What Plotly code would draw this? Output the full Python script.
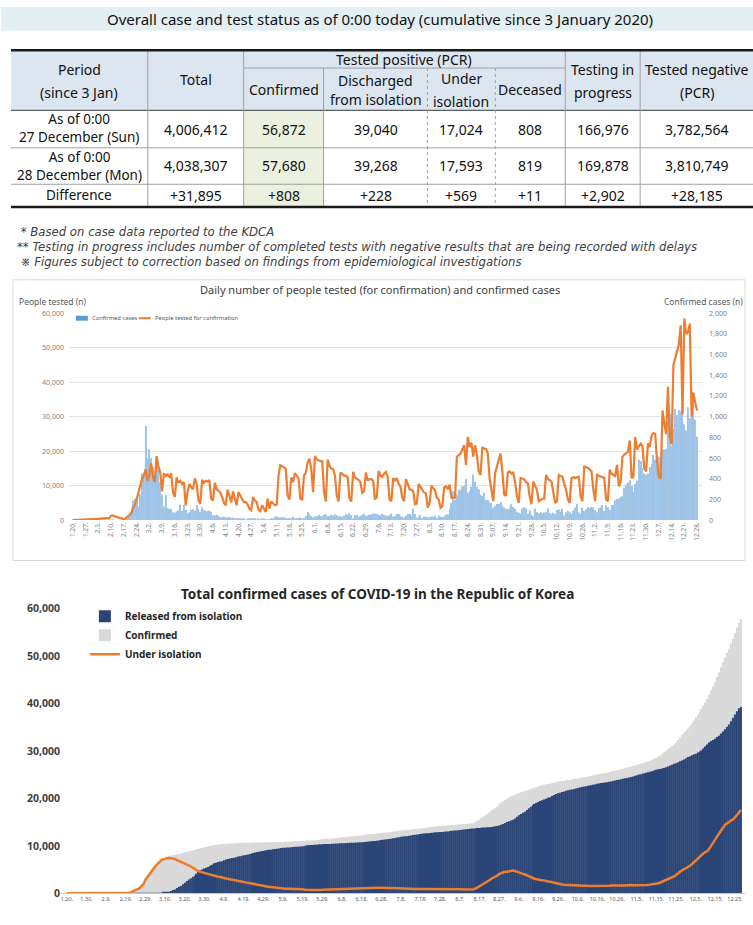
import plotly.graph_objects as go
import pandas as pd
import numpy as np

W, H = 753, 925
FONT = "Noto Sans, Noto Sans CJK KR, sans-serif"
NOTE_FONT = "DejaVu Sans, Noto Sans CJK KR, sans-serif"


def X(p):
    return p / W


def Y(p):
    return 1 - p / H


# ---------------- table data ----------------
table_title = "Overall case and test status as of 0:00 today (cumulative since 3 January 2020)"
group_header = "Tested positive (PCR)"
col_headers = [["Period", "(since 3 Jan)"], ["Total"], ["Confirmed"], ["Discharged", "from isolation"],
               ["Under", "isolation"], ["Deceased"], ["Testing in", "progress"], ["Tested negative", "(PCR)"]]
row_labels = [["As of 0:00", "27 December (Sun)"], ["As of 0:00", "28 December (Mon)"], ["Difference"]]
status_dec27 = [4006412, 56872, 39040, 17024, 808, 166976, 3782564]
status_dec28 = [4038307, 57680, 39268, 17593, 819, 169878, 3810749]
footnotes = [" * Based on case data reported to the KDCA",
             "** Testing in progress includes number of completed tests with negative results that are being recorded with delays",
             " ※ Figures subject to correction based on findings from epidemiological investigations"]

# ---------------- chart texts ----------------
chart1_title = "Daily number of people tested (for confirmation) and confirmed cases"
chart1_left_title = "People tested (n)"
chart1_right_title = "Confirmed cases (n)"
chart1_series = ["Confirmed cases", "People tested for confirmation"]
chart2_title = "Total confirmed cases of COVID-19 in the Republic of Korea"
top_ticks = ["1.20.", "1.27.", "2.3.", "2.10.", "2.17.", "2.24.", "3.2.", "3.9.", "3.16.", "3.23.", "3.30.",
             "4.6.", "4.13.", "4.20.", "4.27.", "5.4.", "5.11.", "5.18.", "5.25.", "6.1.", "6.8.", "6.15.",
             "6.22.", "6.29.", "7.6.", "7.13.", "7.20.", "7.27.", "8.3.", "8.10.", "8.17.", "8.24.", "8.31.",
             "9.07.", "9.14.", "9.21.", "9.28.", "10.5.", "10.12.", "10.19.", "10.26.", "11.2.", "11.9.",
             "11.16.", "11.23.", "11.30.", "12.7.", "12.14.", "12.21.", "12.28."]
bottom_ticks = ["1.20.", "1.30.", "2.9.", "2.19.", "2.29.", "3.10.", "3.20.", "3.30.", "4.9.", "4.19.", "4.29.",
                "5.9.", "5.19.", "5.29.", "6.8.", "6.18.", "6.28.", "7.8.", "7.18.", "7.28.", "8.7.", "8.17.",
                "8.27.", "9.6.", "9.16.", "9.26.", "10.6.", "10.16.", "10.26.", "11.5.", "11.15.", "11.25.",
                "12.5.", "12.15.", "12.25."]

# ---------------- daily data 2020-01-20 .. 2020-12-28 ----------------
confirmed_jan = [1, 0, 0, 0, 1, 0, 1, 1, 0, 0, 3, 4]
confirmed_feb = [1, 3, 0, 1, 2, 5, 1, 0, 3, 0, 1, 0, 0, 0, 0, 2, 0, 1, 15, 34, 75, 190, 210, 207, 130, 253, 449, 427, 909]
confirmed_mar = [595, 686, 600, 516, 438, 518, 483, 367, 248, 131, 242, 114, 110, 107, 76, 74, 84, 93, 152, 87,
                 147, 98, 64, 76, 100, 104, 91, 146, 105, 78, 125]
confirmed_apr = [101, 89, 86, 94, 81, 47, 47, 53, 39, 27, 30, 32, 25, 27, 27, 22, 22, 18, 8, 13,
                 9, 11, 8, 6, 10, 10, 10, 14, 9, 4]
confirmed_may = [9, 6, 13, 8, 3, 2, 4, 12, 18, 34, 35, 27, 26, 29, 27, 19, 13, 15, 13, 32,
                 12, 20, 23, 25, 16, 19, 40, 79, 58, 39, 27]
confirmed_jun = [35, 38, 49, 39, 39, 51, 57, 38, 38, 50, 45, 56, 48, 34, 37, 34, 43, 59, 49, 67,
                 48, 17, 46, 51, 28, 39, 51, 62, 42, 43]
confirmed_jul = [51, 54, 63, 63, 61, 48, 44, 63, 50, 45, 35, 44, 62, 33, 39, 61, 60, 39, 34, 26,
                 45, 63, 59, 41, 113, 58, 25, 28, 48, 18, 36]
confirmed_aug = [31, 30, 23, 34, 33, 43, 20, 43, 36, 28, 34, 54, 56, 103, 166, 279, 197, 246, 297, 288,
                 324, 332, 397, 266, 280, 320, 441, 371, 323, 299, 248]
confirmed_sep = [235, 267, 195, 198, 168, 167, 119, 136, 156, 155, 176, 136, 121, 109, 106, 113, 153, 126, 110, 82,
                 70, 61, 110, 125, 114, 61, 95, 50, 38, 113]
confirmed_oct = [77, 63, 75, 64, 73, 75, 114, 69, 54, 72, 58, 97, 102, 84, 110, 47, 73, 91, 76, 58,
                 91, 121, 155, 77, 61, 119, 88, 103, 125, 114, 127]
confirmed_nov = [124, 97, 75, 118, 125, 145, 89, 143, 126, 100, 146, 143, 191, 205, 208, 223, 230, 313, 343, 363,
                 386, 330, 271, 349, 382, 583, 569, 504, 450, 438]
confirmed_dec = [451, 511, 540, 629, 583, 631, 615, 594, 686, 682, 689, 950, 1030, 718, 880, 1078, 1014, 1064,
                 1053, 1097, 926, 869, 1092, 985, 1241, 1132, 970, 808]

tested_jan = [10, 12, 25, 40, 55, 70, 90, 120, 150, 180, 220, 260]
tested_feb = [300, 320, 350, 420, 480, 520, 560, 600, 650, 1300, 1400, 1100, 900, 800, 600, 550, 200, 500, 1000,
              1500, 1900, 3500, 4300, 6000, 8100, 10500, 11900, 13000, 14800]
tested_mar = [11400, 13000, 16500, 12500, 11000, 18600, 15500, 13800, 8300, 13600, 12800, 13300, 12600, 13600,
              8100, 6700, 12400, 10800, 11400, 10500, 11000, 4300, 8100, 10500, 9500, 9000, 12100, 10500, 5700,
              4800, 11700]
tested_apr = [10800, 11400, 11200, 11600, 6200, 5700, 10800, 9000, 8600, 8000, 6700, 5000, 4300, 8800, 7100,
              5200, 8300, 6000, 4300, 8100, 7100, 6200, 5200, 5200, 4500, 3300, 2900, 6700, 5700, 5200]
tested_may = [3000, 2600, 4300, 3300, 2400, 6200, 3300, 5400, 4800, 4300, 4500, 12900, 15900, 15700, 15300,
              14800, 7100, 6000, 12400, 11000, 13600, 12900, 12000, 6200, 6000, 13000, 13800, 16700, 17800,
              14800, 8100]
tested_jun = [18600, 17600, 17400, 17100, 17100, 8100, 5400, 17600, 15700, 15000, 14800, 12900, 7100, 5400,
              13800, 13200, 12900, 12900, 12400, 6200, 5400, 14000, 12400, 12000, 11700, 11000, 7900, 8300,
              13800, 11400]
tested_jul = [11900, 11900, 11400, 6000, 6700, 14300, 13000, 12500, 13500, 14000, 12600, 6000, 5500, 12200,
              11500, 12200, 10500, 9800, 6500, 5500, 11900, 10500, 9000, 8800, 8400, 4600, 4800, 10500, 9500,
              8800, 8000]
tested_aug = [7700, 3600, 5000, 10000, 9200, 8600, 6500, 6000, 3600, 4000, 9500, 9800, 9000, 10300, 6500, 6500,
              6500, 18400, 19000, 19300, 20500, 21700, 16000, 24100, 21200, 22500, 18400, 21700, 19000, 14100,
              13100]
tested_sep = [21200, 20700, 20700, 19300, 12000, 8800, 5500, 13600, 15500, 17000, 19300, 14100, 7400, 7000,
              13800, 14100, 13500, 13800, 11000, 7000, 5000, 12200, 12000, 11900, 11000, 10700, 6900, 4600,
              11200, 10000]
tested_oct = [8800, 5500, 5800, 6200, 6200, 13100, 12000, 11700, 11200, 8000, 5000, 5500, 13100, 12800, 12600,
              10500, 8800, 6000, 5000, 12200, 12500, 12200, 12400, 12600, 6900, 5500, 15500, 15300, 15200,
              14600, 14100]
tested_nov = [8800, 5500, 13100, 12900, 12600, 12400, 12200, 6000, 5500, 14600, 13500, 13100, 12800, 16000,
              9800, 11200, 18400, 19000, 19300, 19800, 23100, 12200, 12600, 24100, 20500, 21400, 22200, 21500,
              15000, 14100]
tested_dec = [22200, 21200, 24500, 25300, 25000, 17000, 12500, 12000, 31800, 28000, 25000, 38700, 24000, 22000,
              45000, 47000, 49500, 51000, 56500, 30700, 58500, 54000, 54500, 57000, 30000, 37000, 34000, 31800]

released_jan = [0, 0, 0, 0, 0, 0, 0, 0, 0, 0, 0, 0]
released_feb = [0, 0, 0, 0, 1, 1, 1, 1, 3, 3, 4, 7, 7, 7, 9, 9, 10, 12, 12, 16, 16, 16, 18, 18, 22, 22, 22, 24, 27]
released_mar = [30, 30, 30, 34, 41, 108, 130, 130, 166, 247, 288, 333, 510, 714, 834, 1137, 1401, 1540, 1947,
                2233, 2612, 2909, 3166, 3507, 3730, 4144, 4528, 4811, 5033, 5228, 5408]
released_apr = [5567, 5828, 6021, 6325, 6463, 6598, 6694, 6776, 6973, 7117, 7243, 7368, 7447, 7534, 7616, 7757,
                7829, 7937, 8042, 8114, 8213, 8277, 8411, 8501, 8635, 8717, 8764, 8854, 8922, 9059]
released_may = [9123, 9183, 9217, 9283, 9333, 9419, 9484, 9568, 9610, 9632, 9670, 9695, 9720, 9762, 9821, 9851,
                9888, 9904, 9938, 10066, 10135, 10162, 10194, 10213, 10226, 10275, 10295, 10340, 10363, 10385,
                10398]
released_jun = [10405, 10422, 10447, 10467, 10506, 10531, 10552, 10570, 10589, 10611, 10632, 10654, 10669,
                10691, 10718, 10730, 10760, 10795, 10818, 10856, 10881, 10930, 10968, 11020, 11060, 11117,
                11172, 11229, 11317, 11364]
released_jul = [11422, 11476, 11537, 11613, 11684, 11759, 11811, 11914, 11970, 12019, 12066, 12137, 12204,
                12282, 12348, 12396, 12455, 12504, 12545, 12610, 12653, 12698, 12733, 12770, 12817, 12866,
                12905, 12929, 12959, 13007, 13030]
released_aug = [13063, 13132, 13183, 13233, 13280, 13330, 13363, 13406, 13475, 13501, 13552, 13643, 13669,
                13692, 13722, 13760, 13789, 13817, 13863, 13901, 13920, 13948, 14006, 14063, 14138, 14219,
                14285, 14461, 14650, 14845, 15049]
released_sep = [15198, 15356, 15503, 15800, 16146, 16493, 16745, 16983, 17228, 17595, 17929, 18282, 18569,
                18840, 19064, 19287, 19477, 19620, 19770, 19970, 20158, 20275, 20502, 20712, 20934, 21099,
                21234, 21383, 21477, 21617]
released_oct = [21745, 21840, 21916, 21977, 22115, 22225, 22329, 22413, 22509, 22567, 22652, 22730, 22800,
                22887, 22960, 23113, 23173, 23273, 23321, 23384, 23443, 23514, 23608, 23703, 23780, 23887,
                23972, 24084, 24169, 24252, 24324]
released_nov = [24423, 24528, 24651, 24778, 24911, 25035, 25132, 25244, 25347, 25436, 25540, 25643, 25763,
                25905, 26042, 26144, 26223, 26334, 26455, 26586, 26771, 26949, 27118, 27303, 27444, 27624,
                27831, 28024, 28238, 28495]
released_dec = [28723, 28931, 29118, 29334, 29456, 29687, 29898, 30140, 30524, 30956, 31394, 31791, 32114,
                32329, 32587, 32953, 33245, 33698, 34137, 34619, 35100, 35600, 36300, 37000, 37700, 38400,
                39040, 39268]

isolation_jan = [1, 1, 1, 1, 2, 2, 3, 4, 4, 4, 7, 11]
isolation_feb = [12, 15, 15, 16, 17, 22, 23, 23, 24, 24, 24, 21, 21, 21, 19, 21, 20, 19, 34, 63, 137, 327, 531,
                 736, 860, 1111, 1559, 1984, 2887]
isolation_mar = [3478, 4159, 4753, 5261, 5689, 6133, 6592, 6953, 7164, 7211, 7406, 7469, 7401, 7299, 7252,
                 7023, 6837, 6788, 6526, 6324, 6084, 5883, 5683, 5409, 5280, 4965, 4664, 4522, 4397, 4274, 4215]
isolation_apr = [4154, 3978, 3866, 3653, 3590, 3499, 3444, 3407, 3245, 3124, 3025, 2929, 2872, 2807, 2749,
                 2626, 2575, 2483, 2384, 2323, 2232, 2178, 2050, 1966, 1840, 1767, 1730, 1653, 1592, 1458]
isolation_may = [1402, 1346, 1325, 1265, 1216, 1131, 1069, 997, 973, 985, 982, 984, 983, 969, 936, 923, 899,
                 897, 876, 780, 722, 715, 704, 710, 712, 682, 700, 734, 769, 786, 799]
isolation_jun = [826, 846, 870, 888, 888, 914, 950, 970, 986, 1014, 1038, 1071, 1104, 1116, 1126, 1148, 1159,
                 1183, 1208, 1237, 1260, 1228, 1236, 1234, 1221, 1203, 1199, 1204, 1158, 1154]
isolation_jul = [1147, 1147, 1148, 1135, 1125, 1097, 1088, 1048, 1040, 1035, 1023, 996, 990, 945, 918, 929,
                 928, 917, 909, 869, 871, 888, 912, 915, 980, 989, 975, 979, 996, 966, 978]
isolation_aug = [976, 937, 909, 893, 878, 871, 857, 856, 823, 825, 807, 770, 800, 880, 1016, 1257, 1425, 1643,
                 1893, 2143, 2447, 2749, 3088, 3297, 3501, 3738, 4112, 4307, 4438, 4537, 4578]
isolation_sep = [4662, 4768, 4814, 4713, 4532, 4347, 4211, 4107, 4014, 3800, 3639, 3419, 3250, 3086, 2964,
                 2849, 2807, 2790, 2749, 2628, 2507, 2450, 2330, 2240, 2130, 2020, 1980, 1880, 1820, 1790]
isolation_oct = [1735, 1701, 1700, 1702, 1633, 1597, 1606, 1588, 1543, 1555, 1526, 1544, 1575, 1572, 1604,
                 1496, 1507, 1497, 1525, 1518, 1546, 1593, 1652, 1632, 1616, 1628, 1628, 1618, 1655, 1686, 1737]
isolation_nov = [1760, 1750, 1700, 1690, 1680, 1700, 1690, 1720, 1740, 1750, 1790, 1830, 1900, 1960, 2030,
                 2150, 2300, 2500, 2720, 2950, 3150, 3300, 3400, 3560, 3800, 4200, 4560, 4870, 5100, 5280]
isolation_dec = [5500, 5800, 6150, 6550, 7000, 7400, 7800, 8150, 8450, 8700, 8950, 9500, 10200, 10700, 11300,
                 12000, 12700, 13300, 13900, 14500, 14800, 15000, 15400, 15600, 16000, 16500, 17024, 17593]

daily_confirmed = (confirmed_jan + confirmed_feb + confirmed_mar + confirmed_apr + confirmed_may + confirmed_jun
                   + confirmed_jul + confirmed_aug + confirmed_sep + confirmed_oct + confirmed_nov + confirmed_dec)
daily_tested = (tested_jan + tested_feb + tested_mar + tested_apr + tested_may + tested_jun + tested_jul
                + tested_aug + tested_sep + tested_oct + tested_nov + tested_dec)
released = (released_jan + released_feb + released_mar + released_apr + released_may + released_jun
            + released_jul + released_aug + released_sep + released_oct + released_nov + released_dec)
isolation = (isolation_jan + isolation_feb + isolation_mar + isolation_apr + isolation_may + isolation_jun
             + isolation_jul + isolation_aug + isolation_sep + isolation_oct + isolation_nov + isolation_dec)
cumulative_confirmed = [int(v) for v in np.cumsum(daily_confirmed)]

dates = pd.date_range("2020-01-20", periods=len(daily_confirmed), freq="D")
date_str = [d.strftime("%Y-%m-%d") for d in dates]
DAY_MS = 86400000

BAR_BLUE = "#9dc3e6"
ORANGE = "#ed7d31"

fig = go.Figure()

# ---- top chart ----
fig.add_trace(go.Bar(x=date_str, y=daily_confirmed, name=chart1_series[0], marker_color=BAR_BLUE,
                     marker_line_width=0, width=0.7 * DAY_MS, xaxis="x", yaxis="y", showlegend=False))
fig.add_trace(go.Scatter(x=date_str, y=daily_tested, name=chart1_series[1], mode="lines",
                         line=dict(color=ORANGE, width=2.2), xaxis="x", yaxis="y2", showlegend=False))

# ---- bottom chart ----
fig.add_trace(go.Bar(x=date_str, y=cumulative_confirmed, name="Confirmed", marker_color="#d9d9d9",
                     marker_line_width=0, width=0.72 * DAY_MS, xaxis="x2", yaxis="y3", legend="legend2",
                     legendrank=2))
fig.add_trace(go.Bar(x=date_str, y=released, name="Released from isolation", marker_color="#2a4576",
                     marker_line_width=0, width=0.72 * DAY_MS, xaxis="x2", yaxis="y3", legend="legend2",
                     legendrank=1))
fig.add_trace(go.Scatter(x=date_str, y=isolation, name="Under isolation", mode="lines",
                         line=dict(color=ORANGE, width=2.5), xaxis="x2", yaxis="y3", legend="legend2",
                         legendrank=3))

tick_font_small = dict(size=7, color="#7f7f7f", family=FONT)

fig.update_layout(
    width=W, height=H, autosize=False,
    margin=dict(l=0, r=0, t=0, b=0),
    paper_bgcolor="white", plot_bgcolor="rgba(0,0,0,0)",
    font=dict(family=FONT),
    barmode="overlay",
    xaxis=dict(domain=[X(68), X(702)], anchor="y", type="date",
               range=["2020-01-17 19:20", "2020-12-30 17:50"],
               tickmode="array", tickvals=date_str[::7], ticktext=top_ticks, tickangle=-90,
               tickfont=dict(size=6.5, color="#7f7f7f", family=FONT), showgrid=False, showline=False,
               zeroline=False, ticks=""),
    yaxis=dict(domain=[Y(521), Y(311)], anchor="x", side="right", range=[0, 2000], dtick=200,
               tickformat=",", showgrid=False, zeroline=False, tickfont=tick_font_small, ticks="",
               ticklabelstandoff=6),
    yaxis2=dict(overlaying="y", anchor="x", side="left", range=[0, 60000], dtick=10000, tickformat=",",
                showgrid=True, gridcolor="#e4e4e4", gridwidth=1, zeroline=False, tickfont=tick_font_small,
                ticks="", ticklabelstandoff=4),
    xaxis2=dict(domain=[X(60), X(745)], anchor="y3", type="date",
                range=["2020-01-16 22:50", "2020-12-30 02:00"],
                tickmode="array", tickvals=date_str[::10], ticktext=bottom_ticks, tickangle=0,
                tickfont=dict(size=5.5, color="#595959", family=FONT), showgrid=False, showline=True,
                linecolor="#c8c8c8", zeroline=False, ticks=""),
    yaxis3=dict(domain=[Y(900), Y(611)], anchor="x2", range=[0, 60000], dtick=10000, tickformat=",",
                showgrid=False, zeroline=False, ticks="",
                tickfont=dict(size=10.5, color="#404040", family=FONT, weight="bold")),
    legend2=dict(x=X(84), y=Y(604), xanchor="left", yanchor="top", orientation="v",
                 font=dict(size=10, color="#262626", family=FONT, weight="bold"),
                 bgcolor="rgba(0,0,0,0)", itemwidth=30, tracegroupgap=0),
)

# ---------------- table drawing ----------------
col_edges = [10, 147, 243, 323, 427, 495, 565, 640, 753]
row_edges = [105, 143, 180, 203]
shapes = []


def rect(x0, y0, x1, y1, fill, line_color=None, lw=0, layer="below"):
    shapes.append(dict(type="rect", xref="paper", yref="paper", x0=X(x0), x1=X(x1), y0=Y(y1), y1=Y(y0),
                       fillcolor=fill, line=dict(color=line_color or fill, width=lw), layer=layer))


def seg(x0, y0, x1, y1, color, width=1, dash="solid"):
    shapes.append(dict(type="line", xref="paper", yref="paper", x0=X(x0), x1=X(x1), y0=Y(y0), y1=Y(y1),
                       line=dict(color=color, width=width, dash=dash), layer="above"))


rect(0, 0, 753, 24, "#e3eff2")
rect(col_edges[0], 44, col_edges[-1], 105, "#dce6f1")
rect(col_edges[2], 105, col_edges[3], 203, "#ebf1de")
rect(12, 277, 745, 562, "rgba(0,0,0,0)", "#d9d9d9", 1)

grid_c = "#a0a0a0"
seg(col_edges[2], 62, col_edges[6], 62, grid_c, 1)
seg(col_edges[0], 105, col_edges[-1], 105, "#606060", 1.2)
for yy in row_edges[1:-1]:
    seg(col_edges[0], yy, col_edges[-1], yy, grid_c, 1)
for xx in [col_edges[1], col_edges[2], col_edges[6], col_edges[7]]:
    seg(xx, 44, xx, 203, grid_c, 1)
seg(col_edges[3], 62, col_edges[3], 203, grid_c, 1)
for xx in [col_edges[4], col_edges[5]]:
    seg(xx, 62, xx, 203, grid_c, 1, "dot")
seg(col_edges[0], 44, col_edges[-1], 44, "#1a1a1a", 2.5)
seg(col_edges[0], 203, col_edges[-1], 203, "#1a1a1a", 2.5)

# top chart legend keys
rect(75, 313.5, 87, 318.5, "#5b9bd5", layer="above")
seg(138, 316, 150, 316, ORANGE, 2)

annotations = []


def txt(x, y, s, size=14, color="#111111", xanchor="center", bold=False, italic=False, family=FONT,
        align="center"):
    if bold:
        s = "<b>" + s + "</b>"
    if italic:
        s = "<i>" + s + "</i>"
    annotations.append(dict(x=X(x), y=Y(y), xref="paper", yref="paper", text=s, showarrow=False,
                            xanchor=xanchor, yanchor="middle", align=align,
                            font=dict(size=size, color=color, family=family)))


TS = 14
txt(380, 12, table_title, size=15)
txt((col_edges[2] + col_edges[6]) / 2, 53, group_header, size=TS)
header_line_y = [[63, 87], [74], [84], [75, 94], [73, 96], [84], [63, 87], [63, 87]]
for i, lines in enumerate(col_headers):
    cx = (col_edges[i] + col_edges[i + 1]) / 2
    for line, yy in zip(lines, header_line_y[i]):
        txt(cx, yy, line, size=TS)

difference = [b - a for a, b in zip(status_dec27, status_dec28)]
row_values = [[f"{v:,}" for v in status_dec27], [f"{v:,}" for v in status_dec28],
              [f"+{v:,}" for v in difference]]
row_label_y = [123, 161, 191]
for r in range(3):
    txt((col_edges[0] + col_edges[1]) / 2, row_label_y[r], "<br>".join(row_labels[r]), size=13.5)
    for c, val in enumerate(row_values[r]):
        txt((col_edges[c + 1] + col_edges[c + 2]) / 2, row_label_y[r] + (1 if r == 0 else 0), val, size=TS)

txt(14, 244, "<br>".join(footnotes), size=11.7, color="#404040", xanchor="left", italic=True,
    family=NOTE_FONT, align="left")

txt(380, 287, chart1_title, size=11, color="#404040")
txt(16, 299, chart1_left_title, size=8.5, color="#595959", xanchor="left")
txt(745, 299, chart1_right_title, size=8.5, color="#595959", xanchor="right")
txt(89, 316, chart1_series[0], size=5.8, color="#595959", xanchor="left")
txt(152, 316, chart1_series[1], size=5.8, color="#595959", xanchor="left")
txt(377, 596, chart2_title, size=13.5, color="#262626", bold=True)

fig.update_layout(shapes=shapes, annotations=annotations)
fig.write_html("out.html", config={"displayModeBar": False},
               post_script="document.body.style.margin='0px';document.documentElement.style.overflow='hidden';")
